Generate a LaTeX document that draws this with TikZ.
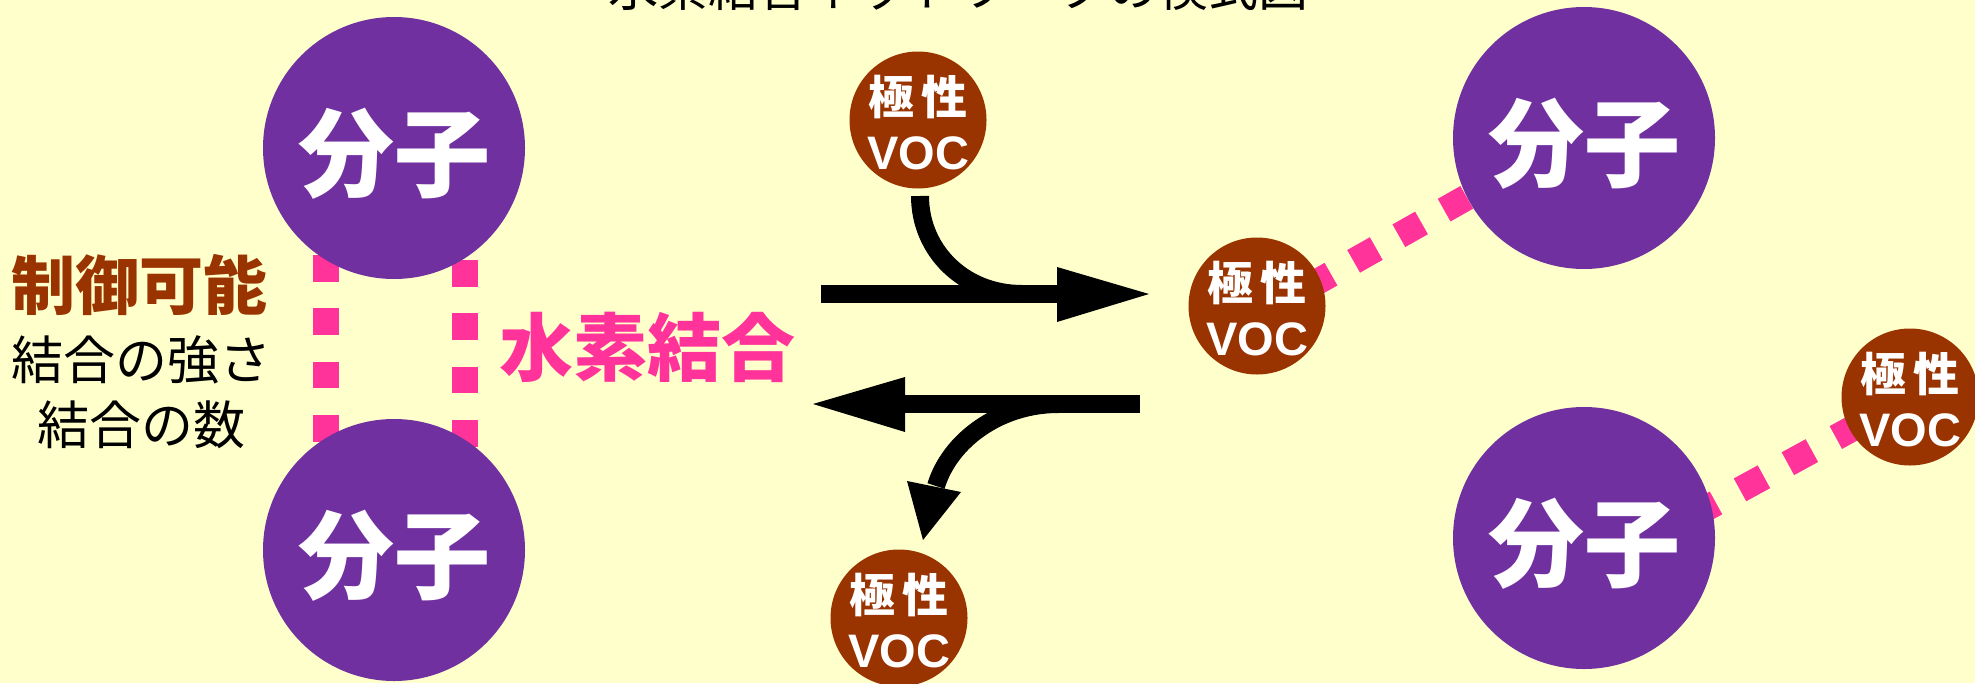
\documentclass[tikz,border=0pt]{standalone}
\usepackage{fontspec}
\newfontfamily\jp{Noto Sans CJK JP}
\newfontfamily\lsans{Liberation Sans}
\usetikzlibrary{calc}
\definecolor{bgc}{HTML}{FFFFCC}
\definecolor{molc}{HTML}{7030A0}
\definecolor{vocc}{HTML}{993300}
\definecolor{hbc}{HTML}{FF3399}
\tikzset{
  mol/.style={circle, fill=molc, minimum size=262pt, inner sep=0pt},
  voc/.style={circle, fill=vocc, minimum size=137pt, inner sep=0pt},
  moltext/.style={text=white, inner sep=0pt, font=\jp\bfseries\fontsize{96}{96}\selectfont},
  voctop/.style={text=white, inner sep=0pt, font=\jp\bfseries\fontsize{46}{46}\selectfont},
  vocbot/.style={text=white, inner sep=0pt, font=\lsans\bfseries\fontsize{47}{47}\selectfont},
  hb/.style={draw=hbc, line width=26pt},
  arr/.style={draw=black, line width=18pt},
  headc/.style={fill=black},
}
\begin{document}
\begin{tikzpicture}[x=1pt,y=-1pt]
\fill[bgc] (0,0) rectangle (1975,683);
\useasboundingbox (0,0) rectangle (1975,683);

% title (cut at top)
\node[inner sep=0pt, font=\jp\fontsize{50}{50}\selectfont] (title) at (958,-12) {水素結合ネットワークの模式図};

% positions
\coordinate (cm1) at (394,148);
\coordinate (cm2) at (394,550);
\coordinate (cm3) at (1584,138);
\coordinate (cm4) at (1584,538);
\coordinate (cv1) at (918,120);
\coordinate (cv2) at (1257,306);
\coordinate (cv3) at (1910,397);
\coordinate (cv4) at (899,618);

% hydrogen bonds (behind the circles)
\draw[hb, dash pattern=on 26.7pt off 26.7pt] ($(cm1)+(-68,0)$) -- ($(cm2)+(-68,0)$);
\draw[hb, dash pattern=on 26.7pt off 26.7pt] ($(cm1)+(71,5)$) -- ($(cm2)+(71,0)$);
\draw[hb, dash pattern=on 26pt off 26pt, dash phase=45pt] ($(cv2)+(0,10)$) -- ($(cm3)+(0,-7)$);
\draw[hb, dash pattern=on 27.3pt off 27.3pt, dash phase=40.7pt] ($(cm4)+(0,37)$) -- (cv3);

% molecules
\node[mol] (m1) at (cm1) {};
\node[mol] (m2) at (cm2) {};
\node[mol] (m3) at (cm3) {};
\node[mol] (m4) at (cm4) {};
\node[moltext] (t1) at ($(m1.center)+(0,6)$) {分子};
\node[moltext] (t2) at ($(m2.center)+(0,6)$) {分子};
\node[moltext] (t3) at ($(m3.center)+(0,6)$) {分子};
\node[moltext] (t4) at ($(m4.center)+(0,6)$) {分子};

% polar VOCs
\foreach \n in {1,2,3,4}{
  \node[voc] (v\n) at (cv\n) {};
  \node[voctop] (va\n) at ($(v\n.center)+(0,-23)$) {極\hspace{8pt}性};
  \node[vocbot] (vb\n) at ($(v\n.center)+(0,33)$) {VOC};
}

% left labels
\node[inner sep=0pt, text=vocc, font=\jp\bfseries\fontsize{64}{64}\selectfont] (ctl) at (140,285) {制御可能};
\node[inner sep=0pt, font=\jp\fontsize{52}{52}\selectfont] (s1) at (141,360) {結合の強さ};
\node[inner sep=0pt, font=\jp\fontsize{52}{52}\selectfont] (s2) at (141.5,425) {結合の数};
\node[inner sep=0pt, text=hbc, font=\jp\bfseries\fontsize{74}{74}\selectfont] (hbl) at (647,347) {水素結合};

% upper (forward) arrow
\coordinate (a1s) at (821,294);
\coordinate (a1e) at (1060,294);
\coordinate (c1s) at (920,196);
\coordinate (c1e) at (1022,294);
\draw[arr] (a1s) -- (a1e);
\draw[arr] (c1s) .. controls (920,250) and (963,294) .. (c1e);
\fill[headc] (1057,267) -- (1149,294) -- (1057,322) -- cycle;

% lower (backward) arrow
\coordinate (a2s) at (1140,404);
\coordinate (a2e) at (900,404);
\coordinate (c2s) at (1058,404);
\coordinate (c2e) at (936,486);
\draw[arr] (a2s) -- (a2e);
\fill[headc] (905,377) -- (813,404) -- (905,432) -- cycle;
\draw[arr] (c2s) .. controls (1000,404) and (950,440) .. (c2e);
\fill[headc] (907,481) -- (923,540) -- (961,492) -- cycle;
\end{tikzpicture}
\end{document}
